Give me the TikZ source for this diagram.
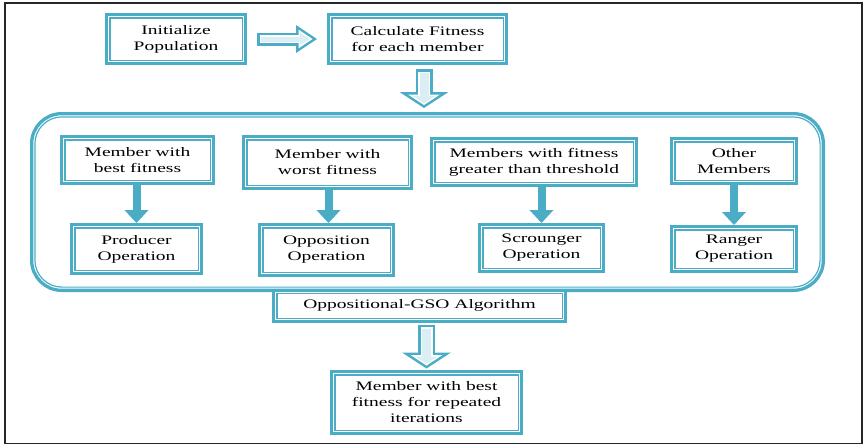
\documentclass[tikz,border=0pt]{standalone}
\usepackage{fontspec}
\setmainfont{Liberation Serif}[FakeStretch=1.5]
\usepackage{xcolor}
\usetikzlibrary{arrows.meta,positioning}
\definecolor{tealc}{RGB}{75,172,198}

\tikzset{
  stepbox/.style={draw=tealc, line width=3.3pt, fill=white, align=center, inner sep=0pt,
    font=\fontsize{13}{16}\selectfont,
    path picture={\draw[tealc, line width=1.2pt]
      ([shift={(3.25pt,-3.25pt)}]path picture bounding box.north west) rectangle
      ([shift={(-3.25pt,3.25pt)}]path picture bounding box.south east);}},
  groupbox/.style={draw=tealc, line width=3.3pt, rounded corners=30pt, inner sep=0pt,
    path picture={\draw[tealc, line width=1.2pt, rounded corners=27pt]
      ([shift={(3.25pt,-3.25pt)}]path picture bounding box.north west) rectangle
      ([shift={(-3.25pt,3.25pt)}]path picture bounding box.south east);}},
  flowarrow/.style={draw=tealc, line width=8pt, -{Triangle[length=13pt,width=24pt,line width=0pt]}},
  hollowR/.style={draw=tealc, line width=13pt, shorten <=#1, shorten >=#1,
    -{Triangle[length=21pt,width=28pt,line width=0pt]},
    postaction={draw=white, line width=8pt, shorten <=#1+2.5pt, shorten >=#1+4.5pt,
      -{Triangle[length=14pt,width=18.7pt,line width=0pt]}},
    postaction={draw=tealc!20, line width=5pt, shorten <=#1+4pt, shorten >=#1+7.2pt,
      -{Triangle[length=9.8pt,width=13.1pt,line width=0pt]}}},
  hollowD/.style={draw=tealc, line width=17pt, shorten <=#1, shorten >=#1,
    -{Triangle[length=16pt,width=49pt,line width=0pt]},
    postaction={draw=white, line width=12pt, shorten <=#1+2.5pt, shorten >=#1+3pt,
      -{Triangle[length=10.5pt,width=32pt,line width=0pt]}},
    postaction={draw=tealc!20, line width=9pt, shorten <=#1+4pt, shorten >=#1+4.8pt,
      -{Triangle[length=7.2pt,width=22pt,line width=0pt]}}}
}

\begin{document}
\begin{tikzpicture}[x=1pt, y=-1pt]
  \useasboundingbox (0,0) rectangle (863,445);
  % Outer frame
  \draw[black!85, line width=1.5pt] (5,3) rectangle (862,443.5);

  % Top row
  \node[stepbox, minimum width=138.7pt, minimum height=48.7pt] (init) at (176,39) {Initialize\\Population};
  \node[stepbox, minimum width=177.7pt, minimum height=48.7pt] (calc) at (417.5,39) {Calculate Fitness\\for each member};

  % Group of member operations
  \node[groupbox, minimum width=791.7pt, minimum height=176.7pt] (grp) at (427.5,202) {};

  \node[stepbox, minimum width=151.7pt, minimum height=46.7pt] (best) at (137.5,160) {Member with\\best fitness};
  \node[stepbox, minimum width=167.7pt, minimum height=51.7pt] (worst) at (327.5,162.5) {Member with\\worst fitness};
  \node[stepbox, minimum width=204.7pt, minimum height=46.7pt] (thr) at (534,162) {Members with fitness\\greater than threshold};
  \node[stepbox, minimum width=124.7pt, minimum height=44.7pt] (other) at (734,161) {Other\\Members};

  \node[stepbox, minimum width=129.7pt, minimum height=48.7pt] (prod) at (136.5,249) {Producer\\Operation};
  \node[stepbox, minimum width=133.7pt, minimum height=50.7pt] (opp) at (326.5,250) {Opposition\\Operation};
  \node[stepbox, minimum width=123.7pt, minimum height=46.7pt] (scr) at (541.5,248) {Scrounger\\Operation};
  \node[stepbox, minimum width=124.7pt, minimum height=44.7pt] (rang) at (734,249) {Ranger\\Operation};

  \node[stepbox, minimum width=291.7pt, minimum height=31pt] (algo) at (419.5,305.85) {Oppositional-GSO Algorithm};
  \node[stepbox, minimum width=189.7pt, minimum height=61.7pt] (final) at (426.5,402.5) {Member with best\\fitness for repeated\\iterations};

  % Arrows
  \draw[hollowR=10pt] (init) -- (calc);
  \draw[hollowD=4pt] ([xshift=6.5pt]calc.south) -- ([xshift=6.5pt]calc.south |- grp.north);
  \draw[hollowD=1.5pt] (final.north |- algo.south) -- (final.north);

  \draw[flowarrow] (prod.north |- best.south) -- (prod.north);
  \draw[flowarrow] ([xshift=2pt]opp.north |- worst.south) -- ([xshift=2pt]opp.north);
  \draw[flowarrow] (scr.north |- thr.south) -- (scr.north);
  \draw[flowarrow] (rang.north |- other.south) -- (rang.north);
\end{tikzpicture}
\end{document}
